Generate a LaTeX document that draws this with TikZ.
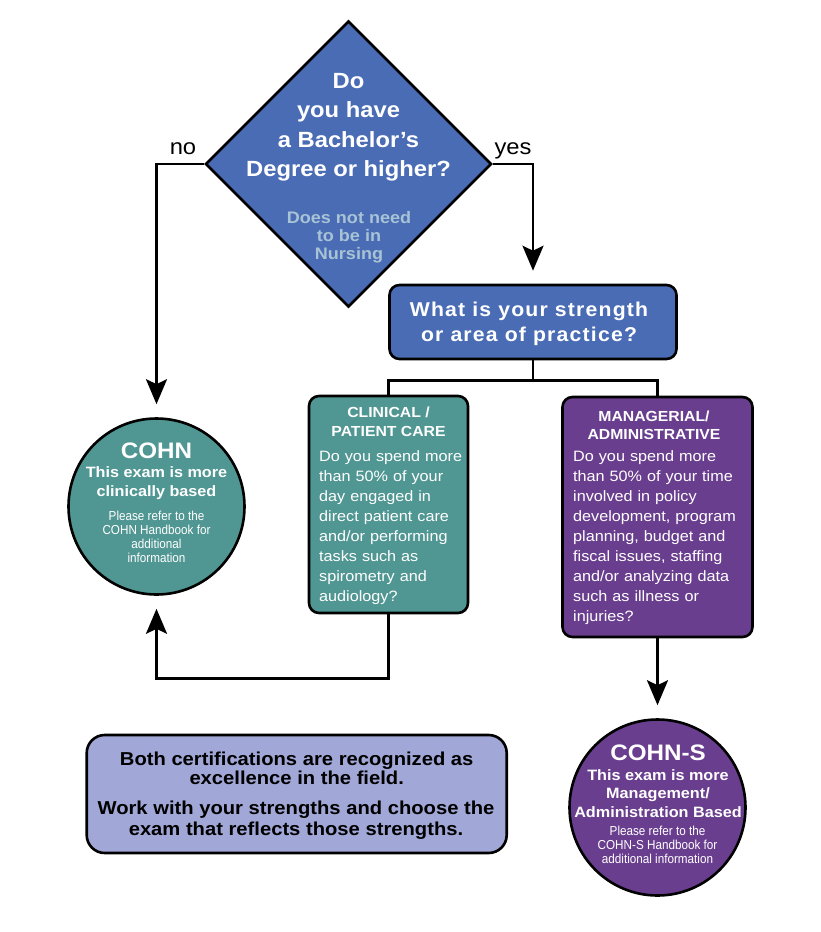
\documentclass[tikz,border=0pt]{standalone}
\usepackage{fontspec}
\setmainfont{Liberation Sans}[FakeStretch=1.08]
\newfontfamily\narrowfont{Liberation Sans}[FakeStretch=0.9]
\newfontfamily\spacedfont{Liberation Sans}[FakeStretch=1.06, LetterSpace=6]
\usetikzlibrary{arrows.meta, shapes.geometric, positioning}
\definecolor{qblue}{RGB}{74, 108, 180}
\definecolor{nursegray}{RGB}{168, 195, 214}
\definecolor{clinteal}{RGB}{80, 150, 146}
\definecolor{mgmtpurple}{RGB}{106, 62, 142}
\definecolor{noteblue}{RGB}{161, 167, 214}
\newcommand{\fsz}[2]{\fontsize{#1}{#2}\selectfont}

\begin{document}
\begin{tikzpicture}[x=1pt, y=-1pt,
    line/.style={line width=2.6pt, line join=miter},
    flow/.style={line, -{Stealth[length=25pt, width=21pt, inset=5pt]}, shorten >=13pt},
    decision/.style={diamond, draw, line width=2.6pt, fill=qblue, inner sep=0pt,
      minimum width=286pt, minimum height=286pt},
    card/.style={rectangle, draw, line width=2.6pt, rounded corners=10pt, inner sep=0pt},
    result/.style={circle, draw, line width=2.6pt, inner sep=0pt, minimum size=176pt},
    txt/.style={inner sep=0pt, anchor=base, align=center},
    bodytxt/.style={inner sep=0pt, anchor=base west, align=left, font=\fsz{15}{20}}]

        % canvas
        \fill[white] (0,0) rectangle (820,932);
        \useasboundingbox (0,0) rectangle (820,932);

        % Question diamond (multi-line texts sit on their last baseline)
        \node[decision] (degree) at (348.5,164) {};
        \node[txt, text=white, font=\fsz{22}{29.6}\bfseries] (degreeq) at (348.5,176.8)
          {Do\\you have\\a Bachelor’s\\Degree or higher?};
        \node[txt, text=nursegray, font=\fsz{16.7}{18}\bfseries] (nursing) at (349,259)
          {Does not need\\to be in\\Nursing};
        \node[txt, font=\fsz{22}{26}] (nolbl) at (183,154) {no};
        \node[txt, font=\fsz{22}{26}] (yeslbl) at (513,154) {yes};

        % Strength box
        \node[card, fill=qblue, minimum width=287pt, minimum height=74pt] (strength) at (533,322) {};
        \node[txt, text=white, font=\fsz{20}{25.7}\spacedfont\bfseries] (strengthq) at (529,341.7)
          {What is your strength\\or area of practice?};

        % Two branches
        \node[card, fill=clinteal, minimum width=159pt, minimum height=217pt] (clinical) at (388.5,504.5) {};
        \node[txt, text=white, font=\fsz{14.6}{18.7}\bfseries] (clintitle) at (388.5,436)
          {CLINICAL /\\PATIENT CARE};
        \node[bodytxt, text=white, text width=145pt] (clinbody) at (319,461.7)
          {Do you spend more\\than 50\% of your\\day engaged in\\direct patient care\\and/or performing\\tasks such as\\spirometry and\\audiology?};

        \node[card, fill=mgmtpurple, minimum width=190pt, minimum height=240pt] (managerial) at (657.5,517) {};
        \node[txt, text=white, font=\fsz{14.6}{17.7}\bfseries] (mgmttitle) at (654,439.4)
          {MANAGERIAL/\\ADMINISTRATIVE};
        \node[bodytxt, text=white, text width=175pt] (mgmtbody) at (573,461.7)
          {Do you spend more\\than 50\% of your time\\involved in policy\\development, program\\planning, budget and\\fiscal issues, staffing\\and/or analyzing data\\such as illness or\\injuries?};

        % Exam circles
        \node[result, fill=clinteal] (cohn) at (156.5,506.5) {};
        \node[txt, text=white, font=\fsz{22.4}{26}\bfseries] (cohnname) at (156.5,458.3) {COHN};
        \node[txt, text=white, font=\fsz{15}{19}\bfseries] (cohnline) at (156.5,496.3)
          {This exam is more\\clinically based};
        \node[txt, text=white, font=\fsz{13}{13.9}\narrowfont] (cohnref) at (156.5,562.5)
          {Please refer to the\\COHN Handbook for\\additional\\information};

        \node[result, fill=mgmtpurple] (cohns) at (657.5,807.5) {};
        \node[txt, text=white, font=\fsz{22.4}{26}\bfseries] (cohnsname) at (658,760) {COHN-S};
        \node[txt, text=white, font=\fsz{15}{18.7}\bfseries] (cohnsline) at (658,817.4)
          {This exam is more\\Management/\\Administration Based};
        \node[txt, text=white, font=\fsz{13}{14}\narrowfont] (cohnsref) at (657.5,863)
          {Please refer to the\\COHN-S Handbook for\\additional information};

        % Note box
        \node[card, fill=noteblue, rounded corners=18pt, minimum width=420pt, minimum height=118pt] (note) at (296.7,794) {};
        \node[txt, font=\fsz{18.7}{19.5}\bfseries] (notetop) at (296.7,784.5)
          {Both certifications are recognized as\\excellence in the field.};
        \node[txt, font=\fsz{18.7}{20.5}\bfseries] (notebot) at (296,835)
          {Work with your strengths and choose the\\exam that reflects those strengths.};

        % Connectors
        \draw[flow] (degree.west) -| (cohn.north);
        \draw[flow] (degree.east) -| (strength.north);
        \draw[line] (strength.south) -- ++(0,20) coordinate (split);
        \draw[line] (clinical.north) |- (split) -| (managerial.north);
        \draw[flow] (clinical.south) -- ++(0,64) -| (cohn.south);
        \draw[flow] (managerial.south) -- (cohns.north);
      \end{tikzpicture}
\end{document}
